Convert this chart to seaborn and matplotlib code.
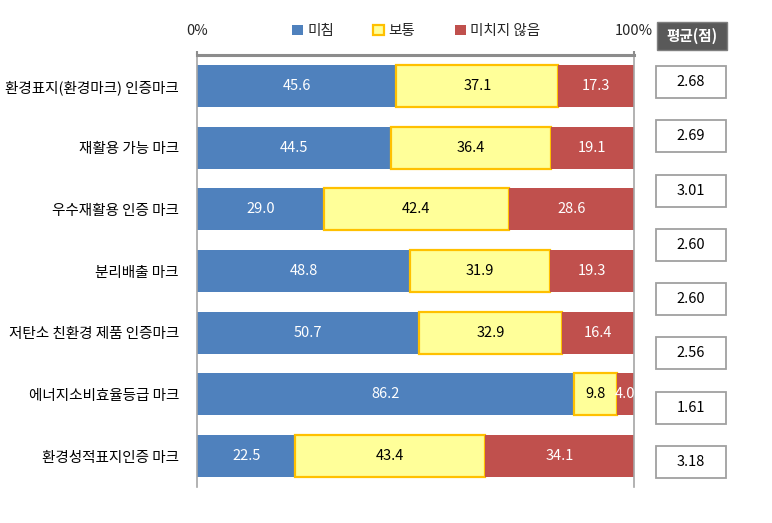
import matplotlib
matplotlib.use("Agg")
import matplotlib.pyplot as plt
from matplotlib.patches import Patch, Rectangle
import seaborn as sns
import numpy as np

categories = ['환경표지(환경마크) 인증마크', '재활용 가능 마크', '우수재활용 인증 마크',
              '분리배출 마크', '저탄소 친환경 제품 인증마크', '에너지소비효율등급 마크',
              '환경성적표지인증 마크']
affect = [45.6, 44.5, 29.0, 48.8, 50.7, 86.2, 22.5]
normal = [37.1, 36.4, 42.4, 31.9, 32.9, 9.8, 43.4]
not_affect = [17.3, 19.1, 28.6, 19.3, 16.4, 4.0, 34.1]
series_names = ['미침', '보통', '미치지 않음']
averages = [2.68, 2.69, 3.01, 2.60, 2.60, 2.56, 1.61, 3.18]
avg_header = '평균(점)'
tick_labels = ['0%', '100%']

sns.set_theme(style="white")
plt.rcParams['font.family'] = ['Noto Sans CJK KR', 'DejaVu Sans']

FS = 10.5
W, H = 772, 523
fig = plt.figure(figsize=(W / 100, H / 100), dpi=100)
ax = fig.add_axes([197 / W, 1 - 487 / H, (634 - 197) / W, (487 - 55) / H])

colors = ['#4F81BD', '#FFFF99', '#C0504D']
edges = ['none', '#FFC000', 'none']
lws = [0, 1.6, 0]
txt_colors = ['white', 'black', 'white']

series = [affect, normal, not_affect]
left = np.zeros(len(categories))
for vals, c, ec, lw, tc in zip(series, colors, edges, lws, txt_colors):
    n0 = len(ax.patches)
    sns.barplot(x=vals, y=categories, orient='h', color=c, width=0.68,
                edgecolor=ec, linewidth=lw, saturation=1, ax=ax)
    new = ax.patches[n0:]
    for p, l, v in zip(new, left, vals):
        p.set_x(l)
        ax.text(l + v / 2, p.get_y() + p.get_height() / 2, f'{v:.1f}',
                ha='center', va='center', color=tc, fontsize=FS)
    left = left + np.array(vals)

ax.set_xlim(0, 100)
ax.set_ylim(6.5, -0.5)
ax.set_xlabel('')
ax.set_ylabel('')
ax.xaxis.tick_top()
ax.set_xticks([0, 100])
ax.set_xticklabels(tick_labels, fontsize=FS)
ax.tick_params(axis='x', top=True, length=3, width=1.5, color='#8C8C8C', pad=9, direction='out')
ax.tick_params(axis='y', left=False, length=0, pad=13, labelsize=FS)
for lab in ax.get_yticklabels():
    lab.set_color('black')
for s in ['left', 'right']:
    ax.spines[s].set_color('#A6A6A6')
    ax.spines[s].set_linewidth(1.2)
ax.spines['top'].set_color('#8C8C8C')
ax.spines['top'].set_linewidth(2.2)
ax.spines['bottom'].set_visible(False)

handles = [Patch(facecolor=c, edgecolor=(ec if ec != 'none' else c), linewidth=(1.6 if ec != 'none' else 0))
           for c, ec in zip(colors, edges)]
fig.legend(handles, series_names, loc='center', bbox_to_anchor=(416 / W, 1 - 31 / H),
           ncol=3, frameon=False, fontsize=FS, handlelength=0.75, handleheight=0.75,
           handletextpad=0.3, columnspacing=2.7)

# header box
bx0, bx1 = 657, 727
fig.patches.append(Rectangle((bx0 / W, 1 - 50 / H), (bx1 - bx0) / W, 28 / H,
                             transform=fig.transFigure, facecolor='#595959',
                             edgecolor='#7F7F7F', linewidth=1))
fig.text((bx0 + bx1) / 2 / W, 1 - 36 / H, avg_header, ha='center', va='center',
         color='white', fontsize=FS, fontweight='bold')

# average boxes
centers = np.linspace(82, 462, len(averages))
for cy, a in zip(centers, averages):
    fig.patches.append(Rectangle((656 / W, 1 - (cy + 16) / H), 70 / W, 32 / H,
                                 transform=fig.transFigure, facecolor='white',
                                 edgecolor='#A0A0A0', linewidth=1.3))
    fig.text(691 / W, 1 - cy / H, f'{a:.2f}', ha='center', va='center',
             color='black', fontsize=FS)

fig.savefig('out.png', dpi=100)
